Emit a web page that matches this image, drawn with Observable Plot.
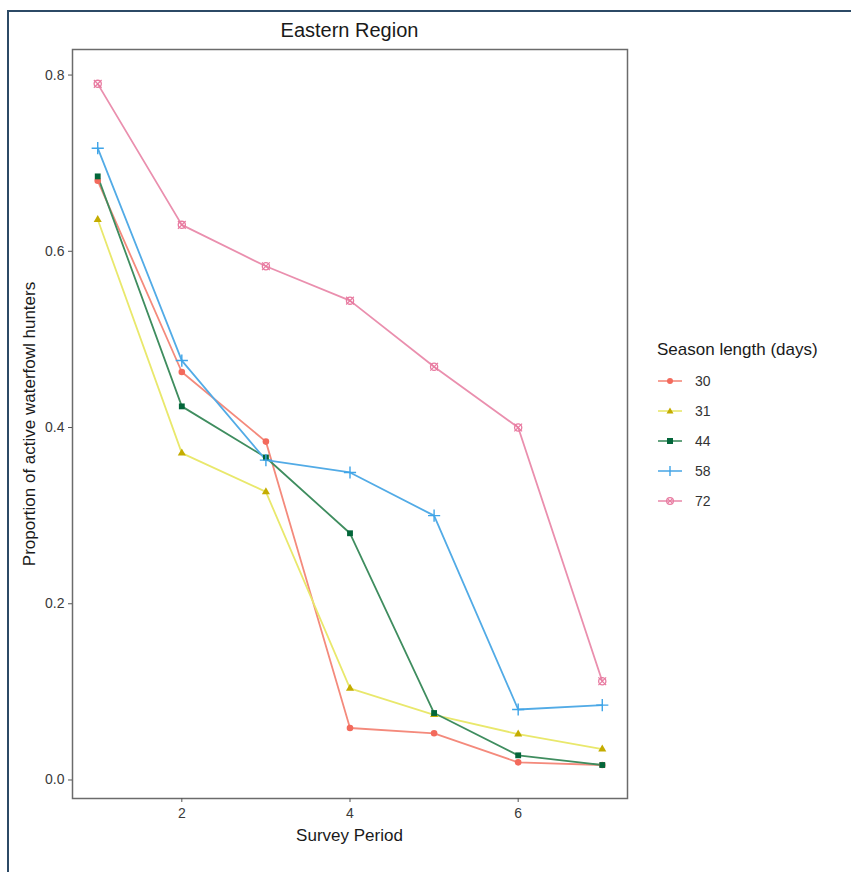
<!DOCTYPE html>
<html>
<head>
<meta charset="utf-8">
<script src="https://cdn.jsdelivr.net/npm/d3@7"></script>
<script src="https://cdn.jsdelivr.net/npm/@observablehq/plot@0.6"></script>
<style>
  html, body { margin: 0; padding: 0; background: #ffffff; }
  body { width: 851px; height: 872px; position: relative; overflow: hidden; font-family: "Liberation Sans", Arial, sans-serif; }
  #frame { position: absolute; left: 7px; top: 10px; width: 860px; height: 880px; border-left: 2px solid #2c4a66; border-top: 2px solid #2c4a66; }
  #chart { position: absolute; left: 0; top: 0; }
  .title { position: absolute; left: 72px; width: 555px; top: 19px; text-align: center; font-size: 20px; color: #1a1a1a; }
  .xlab { position: absolute; left: 72px; width: 555px; top: 826px; text-align: center; font-size: 17px; color: #1a1a1a; }
  .ylab { position: absolute; left: 30px; top: 424px; transform: translate(-50%, -50%) rotate(-90deg); white-space: nowrap; font-size: 17px; color: #1a1a1a; }
  #legend { position: absolute; left: 657px; top: 340px; }
  #legend .lt { font-size: 17px; color: #1a1a1a; margin-bottom: 6px; }
  #legend .row { display: flex; align-items: center; height: 30px; }
  #legend .row span { font-size: 14px; color: #333; margin-left: 12px; }
  #chart svg text { font-size: 14px; }
</style>
</head>
<body>
<div id="frame"></div>
<div id="chart"></div>
<div class="title">Eastern Region</div>
<div class="xlab">Survey Period</div>
<div class="ylab">Proportion of active waterfowl hunters</div>
<div id="legend"></div>
<script>
// ---- data ----
const periods = [1, 2, 3, 4, 5, 6, 7];
const seasons = ["30", "31", "44", "58", "72"];
const s30 = [0.680, 0.463, 0.384, 0.059, 0.053, 0.020, 0.017];
const s31 = [0.636, 0.371, 0.327, 0.104, 0.074, 0.052, 0.035];
const s44 = [0.685, 0.424, 0.366, 0.280, 0.076, 0.028, 0.017];
const s58 = [0.717, 0.476, 0.363, 0.349, 0.300, 0.080, 0.085];
const s72 = [0.790, 0.630, 0.583, 0.544, 0.469, 0.400, 0.112];
const yTicks = [0, 0.2, 0.4, 0.6, 0.8];
const xTicks = [2, 4, 6];
const legendTitle = "Season length (days)";

// ---- styles ----
const lineColors  = {"30": "#f48a7c", "31": "#e9e86c", "44": "#3f8d5f", "58": "#52abe6", "72": "#ea8fae"};
const pointColors = {"30": "#f36a5c", "31": "#c4ac00", "44": "#03663a", "58": "#3ea4e8", "72": "#e87aa0"};
const shapes      = {"30": "circle", "31": "triangle", "44": "square", "58": "plus", "72": "circlex"};

const valuesBySeason = {"30": s30, "31": s31, "44": s44, "58": s58, "72": s72};
const rows = seasons.flatMap(s => periods.map((p, i) => ({season: s, period: p, value: valuesBySeason[s][i]})));

const marks = [
  Plot.frame({stroke: "#6b6b6b", strokeWidth: 1.5}),
  Plot.axisX({ticks: xTicks, tickSize: 4, tickPadding: 6, stroke: "#555", color: "#3a3a3a", fontSize: 14, label: null, tickFormat: d3.format("d")}),
  Plot.axisY({ticks: yTicks, tickSize: 4, tickPadding: 4, stroke: "#555", color: "#3a3a3a", fontSize: 14, label: null, tickFormat: d3.format(".1f")})
];
for (const s of seasons) {
  const d = rows.filter(r => r.season === s);
  marks.push(Plot.line(d, {x: "period", y: "value", stroke: lineColors[s], strokeWidth: 1.8}));
}
for (const s of seasons) {
  const d = rows.filter(r => r.season === s);
  const sh = shapes[s];
  if (sh === "plus") {
    marks.push(Plot.dot(d, {x: "period", y: "value", symbol: "plus", r: 4, stroke: pointColors[s], strokeWidth: 1.4}));
  } else if (sh === "circlex") {
    marks.push(Plot.dot(d, {x: "period", y: "value", symbol: "circle", r: 3.6, stroke: pointColors[s], strokeWidth: 1.3, fill: "none"}));
    marks.push(Plot.dot(d, {x: "period", y: "value", symbol: "times", r: 3.6, stroke: pointColors[s], strokeWidth: 1.2}));
  } else {
    marks.push(Plot.dot(d, {x: "period", y: "value", symbol: sh, r: sh === "triangle" ? 3.0 : 3.3, fill: pointColors[s], stroke: "none"}));
  }
}

const chart = Plot.plot({
  width: 851,
  height: 872,
  marginLeft: 72,
  marginRight: 224,
  marginTop: 49,
  marginBottom: 74,
  style: {fontFamily: "Liberation Sans, Arial, sans-serif", fontSize: "14px", background: "transparent", overflow: "visible"},
  x: {domain: [0.7, 7.3]},
  y: {domain: [-0.021, 0.829]},
  marks
});
document.getElementById("chart").appendChild(chart);

// ---- legend ----
const lg = document.getElementById("legend");
const t = document.createElement("div");
t.className = "lt";
t.textContent = legendTitle;
lg.appendChild(t);
const ns = "http://www.w3.org/2000/svg";
for (const s of seasons) {
  const row = document.createElement("div");
  row.className = "row";
  const svg = document.createElementNS(ns, "svg");
  svg.setAttribute("width", 26); svg.setAttribute("height", 14);
  const ln = document.createElementNS(ns, "line");
  ln.setAttribute("x1", 1); ln.setAttribute("x2", 25); ln.setAttribute("y1", 7); ln.setAttribute("y2", 7);
  ln.setAttribute("stroke", lineColors[s]); ln.setAttribute("stroke-width", 1.6);
  svg.appendChild(ln);
  const sym = shapes[s];
  const col = pointColors[s];
  const add = (tag, attrs) => { const e = document.createElementNS(ns, tag); for (const k in attrs) e.setAttribute(k, attrs[k]); svg.appendChild(e); };
  if (sym === "circle") add("circle", {cx: 13, cy: 7, r: 3, fill: col});
  else if (sym === "triangle") add("path", {d: "M13,3.5L16.5,9.5L9.5,9.5Z", fill: col});
  else if (sym === "square") add("rect", {x: 10, y: 4, width: 6, height: 6, fill: col});
  else if (sym === "plus") add("path", {d: "M13,2V12", stroke: col, "stroke-width": 1.4});
  else { add("circle", {cx: 13, cy: 7, r: 3.4, fill: "none", stroke: col, "stroke-width": 1.2}); add("path", {d: "M10.6,4.6L15.4,9.4M15.4,4.6L10.6,9.4", stroke: col, "stroke-width": 1.1}); }
  row.appendChild(svg);
  const lab = document.createElement("span");
  lab.textContent = s;
  row.appendChild(lab);
  lg.appendChild(row);
}
</script>
</body>
</html>
